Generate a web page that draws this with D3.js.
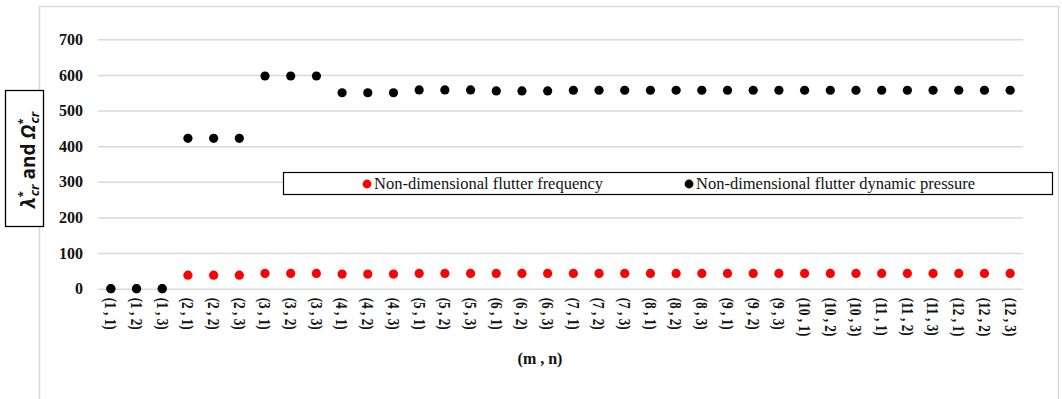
<!DOCTYPE html>
<html>
<head>
<meta charset="utf-8">
<script src="https://cdn.jsdelivr.net/npm/d3@7"></script>
<style>
  html, body { margin: 0; padding: 0; background: #fff; }
  svg { display: block; }
</style>
</head>
<body>
<svg id="chart" width="1062" height="399"></svg>
<script>
// (m , n) mode pairs along the horizontal axis
const modes = [
  "(1 , 1)", "(1 , 2)", "(1 , 3)", "(2 , 1)", "(2 , 2)", "(2 , 3)",
  "(3 , 1)", "(3 , 2)", "(3 , 3)", "(4 , 1)", "(4 , 2)", "(4 , 3)",
  "(5 , 1)", "(5 , 2)", "(5 , 3)", "(6 , 1)", "(6 , 2)", "(6 , 3)",
  "(7 , 1)", "(7 , 2)", "(7 , 3)", "(8 , 1)", "(8 , 2)", "(8 , 3)",
  "(9 , 1)", "(9 , 2)", "(9 , 3)", "(10 , 1)", "(10 , 2)", "(10 , 3)",
  "(11 , 1)", "(11 , 2)", "(11 , 3)", "(12 , 1)", "(12 , 2)", "(12 , 3)"
];

// Non-dimensional flutter frequency
const frequency = [
  0, 0, 0, 38, 38, 38,
  43, 43, 43, 41, 41, 41,
  43, 43, 43, 43, 43, 43,
  43, 43, 43, 43, 43, 43,
  43, 43, 43, 43, 43, 43,
  43, 43, 43, 43, 43, 43
];

// Non-dimensional flutter dynamic pressure
const pressure = [
  0, 0, 0, 422, 422, 422,
  597, 597, 597, 550, 550, 550,
  558, 558, 558, 555, 555, 555,
  557, 557, 557, 557, 557, 557,
  557, 557, 557, 557, 557, 557,
  557, 557, 557, 557, 557, 557
];

const yTicks = [0, 100, 200, 300, 400, 500, 600, 700];

const seriesNames = ["Non-dimensional flutter frequency", "Non-dimensional flutter dynamic pressure"];

const svg = d3.select("#chart");
const serif = "'Liberation Serif', 'Times New Roman', serif";
const gridColor = "#d9d9d9";

// outer chart frame
svg.append("rect")
  .attr("x", 39.5).attr("y", 6.5)
  .attr("width", 1019).attr("height", 420)
  .attr("fill", "#fff").attr("stroke", gridColor).attr("stroke-width", 1.5);

const plot = { left: 98, right: 1023, top: 39.3, bottom: 288.7 };

const x = d3.scaleBand().domain(modes).range([plot.left, plot.right]);
const y = d3.scaleLinear().domain([0, 700]).range([plot.bottom, plot.top]);

// horizontal gridlines with value labels
const yAxis = d3.axisLeft(y).tickValues(yTicks).tickSize(-(plot.right - plot.left)).tickPadding(15);
const yg = svg.append("g").attr("transform", `translate(${plot.left},0)`).call(yAxis);
yg.select(".domain").remove();
yg.selectAll(".tick line").attr("stroke", gridColor).attr("stroke-width", 1.5);
yg.selectAll(".tick text")
  .attr("font-family", serif).attr("font-size", 16).attr("font-weight", "bold")
  .attr("fill", "#111");

// mode labels, rotated to read top-down
const xg = svg.append("g").attr("transform", `translate(0,${plot.bottom})`)
  .call(d3.axisBottom(x).tickSize(0).tickPadding(0));
xg.select(".domain").remove();
xg.selectAll(".tick text")
  .attr("font-family", serif).attr("font-size", 14).attr("font-weight", "bold")
  .attr("fill", "#111")
  .attr("transform", "translate(0,9) rotate(90) scale(0.95,1.15)")
  .attr("x", 0).attr("y", 0).attr("dy", "0.35em")
  .attr("text-anchor", "start");

// axis title
svg.append("text")
  .attr("x", 540).attr("y", 364)
  .attr("text-anchor", "middle")
  .attr("font-family", serif).attr("font-size", 16).attr("font-weight", "bold")
  .attr("fill", "#111")
  .text("(m , n)");

// frequency points (red) then pressure points (black) on top
const r = 4.6;
svg.append("g").selectAll("circle")
  .data(frequency)
  .join("circle")
  .attr("cx", (d, i) => x(modes[i]) + x.bandwidth() / 2)
  .attr("cy", d => y(d))
  .attr("r", r)
  .attr("fill", "#ff0000");

svg.append("g").selectAll("circle")
  .data(pressure)
  .join("circle")
  .attr("cx", (d, i) => x(modes[i]) + x.bandwidth() / 2)
  .attr("cy", d => y(d))
  .attr("r", r)
  .attr("fill", "#000");

// legend
const legend = svg.append("g");
legend.append("rect")
  .attr("x", 283.5).attr("y", 172.5)
  .attr("width", 769).attr("height", 22)
  .attr("fill", "#fff").attr("stroke", "#000").attr("stroke-width", 1.2);
const legendItems = [
  { name: seriesNames[0], color: "#ff0000", cx: 367 },
  { name: seriesNames[1], color: "#000", cx: 689 }
];
legendItems.forEach(it => {
  legend.append("circle").attr("cx", it.cx).attr("cy", 184).attr("r", 4.4).attr("fill", it.color);
  legend.append("text")
    .attr("x", it.cx + 7).attr("y", 184).attr("dy", "0.33em")
    .attr("font-family", serif).attr("font-size", 16.5).attr("fill", "#111")
    .text(it.name);
});

// vertical axis title in a framed box
svg.append("rect")
  .attr("x", 5.5).attr("y", 90.5).attr("width", 38).attr("height", 136)
  .attr("fill", "#fff").attr("stroke", "#000").attr("stroke-width", 1.3);
const yt = svg.append("text")
  .attr("transform", "translate(35,160) rotate(-90)")
  .attr("text-anchor", "middle")
  .attr("font-family", "'Open Sans', 'Liberation Sans', sans-serif")
  .attr("font-weight", "bold").attr("font-size", 19).attr("fill", "#111");
yt.append("tspan").attr("font-style", "italic").text("λ");
yt.append("tspan").attr("font-size", 11).attr("dy", -9).text("*");
yt.append("tspan").attr("font-size", 13).attr("font-style", "italic").attr("dx", -5).attr("dy", 13).text("cr");
yt.append("tspan").attr("dy", -4).text(" and ");
yt.append("tspan").attr("font-style", "italic").text("Ω");
yt.append("tspan").attr("font-size", 11).attr("dy", -9).text("*");
yt.append("tspan").attr("font-size", 13).attr("font-style", "italic").attr("dx", -5).attr("dy", 13).text("cr");
</script>
</body>
</html>
